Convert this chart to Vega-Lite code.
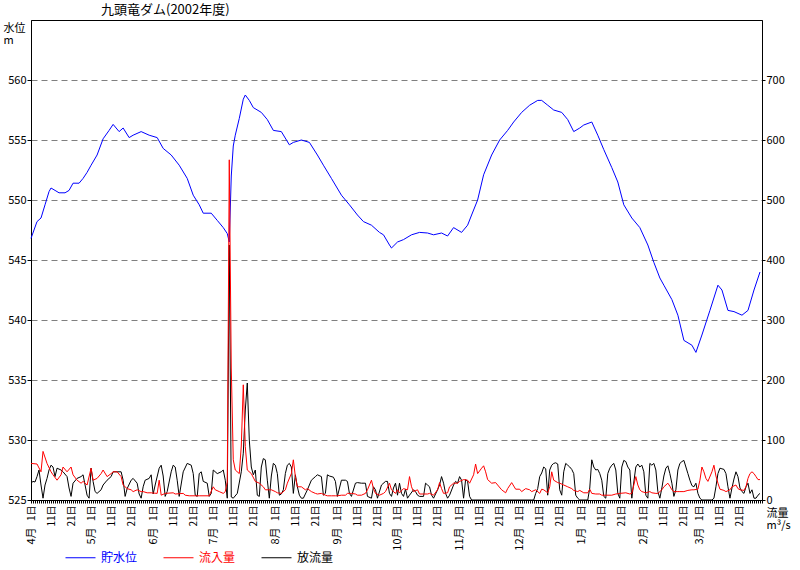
{
"$schema":"https://vega.github.io/schema/vega-lite/v6.json",
"autosize":"none",
"width":731,"height":480,
"padding":{"left":31,"top":20,"right":38,"bottom":70},
"background":"white",
"title":{"text":"九頭竜ダム(2002年度)","anchor":"start","frame":"group","dx":70,"offset":3,"fontSize":13,"fontWeight":"normal","color":"black","font":"Noto Sans CJK JP"},
"config":{"font":"Noto Sans CJK JP","view":{"stroke":"black","strokeWidth":1},
"axis":{"labelFont":"Noto Sans CJK JP","titleFont":"Noto Sans CJK JP","labelColor":"black","tickColor":"black","domainColor":"black","titleColor":"black","labelFontSize":11,"titleFontSize":12,"titleFontWeight":"normal"},
"legend":{"labelFont":"Noto Sans CJK JP"}},
"datasets":{
"lv":[
{"d":"2002/04/01","v":546.8},{"d":"2002/04/04","v":548.2},{"d":"2002/04/06","v":548.5},{"d":"2002/04/08","v":549.6},{"d":"2002/04/10","v":550.7},{"d":"2002/04/11","v":551.0},{"d":"2002/04/13","v":550.8},{"d":"2002/04/15","v":550.6},{"d":"2002/04/18","v":550.6},{"d":"2002/04/20","v":550.8},{"d":"2002/04/22","v":551.4},{"d":"2002/04/25","v":551.4},{"d":"2002/04/27","v":551.8},{"d":"2002/04/29","v":552.3},
{"d":"2002/05/01","v":552.9},{"d":"2002/05/04","v":553.75},{"d":"2002/05/07","v":555.1},{"d":"2002/05/10","v":555.8},{"d":"2002/05/12","v":556.3},{"d":"2002/05/15","v":555.7},{"d":"2002/05/17","v":556.0},{"d":"2002/05/20","v":555.2},{"d":"2002/05/22","v":555.4},{"d":"2002/05/26","v":555.7},{"d":"2002/05/30","v":555.4},
{"d":"2002/06/03","v":555.2},{"d":"2002/06/06","v":554.3},{"d":"2002/06/10","v":553.75},{"d":"2002/06/14","v":552.9},{"d":"2002/06/18","v":551.8},{"d":"2002/06/21","v":550.4},{"d":"2002/06/24","v":549.6},{"d":"2002/06/26","v":548.9},{"d":"2002/06/30","v":548.9},
{"d":"2002/07/03","v":548.3},{"d":"2002/07/06","v":547.7},{"d":"2002/07/08","v":547.2},{"d":"2002/07/09","v":546.5},{"d":"2002/07/10","v":552.0},{"d":"2002/07/11","v":554.5},{"d":"2002/07/12","v":555.4},{"d":"2002/07/14","v":556.8},{"d":"2002/07/16","v":558.4},{"d":"2002/07/17","v":558.75},{"d":"2002/07/19","v":558.3},{"d":"2002/07/21","v":557.7},{"d":"2002/07/25","v":557.3},{"d":"2002/07/28","v":556.7},{"d":"2002/07/31","v":555.8},
{"d":"2002/08/04","v":555.7},{"d":"2002/08/08","v":554.6},{"d":"2002/08/10","v":554.8},{"d":"2002/08/14","v":555.0},{"d":"2002/08/18","v":554.8},{"d":"2002/08/22","v":553.75},{"d":"2002/08/25","v":552.9},{"d":"2002/08/29","v":551.8},
{"d":"2002/09/03","v":550.4},{"d":"2002/09/07","v":549.6},{"d":"2002/09/11","v":548.75},{"d":"2002/09/14","v":548.2},{"d":"2002/09/18","v":547.9},{"d":"2002/09/22","v":547.3},{"d":"2002/09/24","v":547.1},{"d":"2002/09/27","v":546.25},{"d":"2002/09/28","v":546.0},
{"d":"2002/10/01","v":546.5},{"d":"2002/10/04","v":546.7},{"d":"2002/10/08","v":547.1},{"d":"2002/10/12","v":547.3},{"d":"2002/10/16","v":547.25},{"d":"2002/10/19","v":547.1},{"d":"2002/10/23","v":547.25},{"d":"2002/10/26","v":547.0},{"d":"2002/10/29","v":547.7},
{"d":"2002/11/02","v":547.3},{"d":"2002/11/05","v":547.9},{"d":"2002/11/07","v":548.75},{"d":"2002/11/10","v":550.0},{"d":"2002/11/13","v":552.1},{"d":"2002/11/17","v":553.75},{"d":"2002/11/21","v":555.0},{"d":"2002/11/25","v":555.8},{"d":"2002/11/28","v":556.5},
{"d":"2002/12/02","v":557.3},{"d":"2002/12/06","v":557.9},{"d":"2002/12/10","v":558.3},{"d":"2002/12/12","v":558.3},{"d":"2002/12/15","v":557.9},{"d":"2002/12/18","v":557.5},{"d":"2002/12/22","v":557.3},{"d":"2002/12/25","v":556.7},{"d":"2002/12/28","v":555.7},{"d":"2002/12/31","v":556.0},
{"d":"2003/01/02","v":556.25},{"d":"2003/01/06","v":556.5},{"d":"2003/01/09","v":555.4},{"d":"2003/01/12","v":554.2},{"d":"2003/01/16","v":552.7},{"d":"2003/01/19","v":551.5},{"d":"2003/01/22","v":549.6},{"d":"2003/01/26","v":548.5},{"d":"2003/01/30","v":547.7},
{"d":"2003/02/03","v":546.25},{"d":"2003/02/06","v":544.8},{"d":"2003/02/09","v":543.5},{"d":"2003/02/11","v":542.9},{"d":"2003/02/15","v":541.7},{"d":"2003/02/18","v":540.4},{"d":"2003/02/21","v":538.3},{"d":"2003/02/25","v":537.9},{"d":"2003/02/27","v":537.3},
{"d":"2003/03/02","v":538.75},{"d":"2003/03/06","v":540.8},{"d":"2003/03/10","v":542.9},{"d":"2003/03/12","v":542.5},{"d":"2003/03/15","v":540.8},{"d":"2003/03/18","v":540.7},{"d":"2003/03/22","v":540.4},{"d":"2003/03/25","v":540.8},{"d":"2003/03/28","v":542.5},{"d":"2003/03/31","v":544.0}
],
"inq":[
{"d":"2002/04/01","v":61},{"d":"2002/04/04","v":60},{"d":"2002/04/06","v":47},{"d":"2002/04/07","v":81},{"d":"2002/04/09","v":61},{"d":"2002/04/11","v":47},{"d":"2002/04/12","v":42},{"d":"2002/04/14","v":33},{"d":"2002/04/16","v":42},{"d":"2002/04/17","v":55},{"d":"2002/04/19","v":47},{"d":"2002/04/21","v":55},{"d":"2002/04/22","v":42},{"d":"2002/04/24","v":33},{"d":"2002/04/26","v":28},{"d":"2002/04/27","v":31},{"d":"2002/04/29","v":25},
{"d":"2002/05/01","v":53},{"d":"2002/05/02","v":33},{"d":"2002/05/04","v":36},{"d":"2002/05/06","v":44},{"d":"2002/05/07","v":50},{"d":"2002/05/09","v":39},{"d":"2002/05/11","v":44},{"d":"2002/05/12","v":47},{"d":"2002/05/14","v":47},{"d":"2002/05/16","v":39},{"d":"2002/05/17","v":25},{"d":"2002/05/19","v":19},{"d":"2002/05/21","v":17},{"d":"2002/05/22","v":14},{"d":"2002/05/24","v":17},{"d":"2002/05/26","v":14},{"d":"2002/05/27","v":14},{"d":"2002/05/29","v":12},{"d":"2002/05/31","v":12},
{"d":"2002/06/03","v":11},{"d":"2002/06/04","v":33},{"d":"2002/06/05","v":8},{"d":"2002/06/07","v":11},{"d":"2002/06/11","v":12},{"d":"2002/06/12","v":10},{"d":"2002/06/16","v":11},{"d":"2002/06/17","v":8},{"d":"2002/06/19","v":7},{"d":"2002/06/24","v":7},{"d":"2002/06/29","v":7},
{"d":"2002/07/01","v":22},{"d":"2002/07/02","v":17},{"d":"2002/07/04","v":14},{"d":"2002/07/06","v":11},{"d":"2002/07/07","v":14},{"d":"2002/07/08","v":30},{"d":"2002/07/09","v":567},{"d":"2002/07/10","v":220},{"d":"2002/07/11","v":67},{"d":"2002/07/12","v":50},{"d":"2002/07/14","v":44},{"d":"2002/07/15","v":90},{"d":"2002/07/16","v":192},{"d":"2002/07/17","v":89},{"d":"2002/07/18","v":50},{"d":"2002/07/20","v":44},{"d":"2002/07/22","v":31},{"d":"2002/07/24","v":28},{"d":"2002/07/26","v":22},{"d":"2002/07/27","v":17},{"d":"2002/07/29","v":17},{"d":"2002/07/30","v":17},
{"d":"2002/08/01","v":14},{"d":"2002/08/02","v":12},{"d":"2002/08/04","v":11},{"d":"2002/08/06","v":17},{"d":"2002/08/07","v":28},{"d":"2002/08/09","v":44},{"d":"2002/08/10","v":67},{"d":"2002/08/11","v":39},{"d":"2002/08/12","v":22},{"d":"2002/08/14","v":22},{"d":"2002/08/16","v":17},{"d":"2002/08/17","v":19},{"d":"2002/08/19","v":14},{"d":"2002/08/21","v":11},{"d":"2002/08/22","v":10},{"d":"2002/08/24","v":11},{"d":"2002/08/26","v":8},{"d":"2002/08/27","v":7},{"d":"2002/08/29","v":7},{"d":"2002/08/31","v":7},
{"d":"2002/09/01","v":7},{"d":"2002/09/03","v":8},{"d":"2002/09/05","v":8},{"d":"2002/09/06","v":11},{"d":"2002/09/08","v":11},{"d":"2002/09/10","v":10},{"d":"2002/09/11","v":8},{"d":"2002/09/13","v":8},{"d":"2002/09/15","v":11},{"d":"2002/09/16","v":17},{"d":"2002/09/18","v":33},{"d":"2002/09/19","v":19},{"d":"2002/09/20","v":11},{"d":"2002/09/22","v":8},{"d":"2002/09/24","v":11},{"d":"2002/09/25","v":14},{"d":"2002/09/27","v":28},{"d":"2002/09/28","v":17},{"d":"2002/09/30","v":11},
{"d":"2002/10/01","v":17},{"d":"2002/10/02","v":12},{"d":"2002/10/04","v":19},{"d":"2002/10/06","v":17},{"d":"2002/10/07","v":39},{"d":"2002/10/08","v":22},{"d":"2002/10/09","v":14},{"d":"2002/10/11","v":17},{"d":"2002/10/12","v":10},{"d":"2002/10/14","v":10},{"d":"2002/10/16","v":10},{"d":"2002/10/17","v":11},{"d":"2002/10/19","v":8},{"d":"2002/10/21","v":17},{"d":"2002/10/22","v":29},{"d":"2002/10/23","v":19},{"d":"2002/10/24","v":11},{"d":"2002/10/26","v":12},{"d":"2002/10/27","v":22},{"d":"2002/10/29","v":28},{"d":"2002/10/31","v":28},
{"d":"2002/11/01","v":31},{"d":"2002/11/03","v":34},{"d":"2002/11/05","v":33},{"d":"2002/11/06","v":28},{"d":"2002/11/08","v":42},{"d":"2002/11/09","v":60},{"d":"2002/11/10","v":44},{"d":"2002/11/12","v":53},{"d":"2002/11/13","v":57},{"d":"2002/11/14","v":47},{"d":"2002/11/15","v":34},{"d":"2002/11/17","v":28},{"d":"2002/11/19","v":29},{"d":"2002/11/20","v":25},{"d":"2002/11/22","v":17},{"d":"2002/11/24","v":12},{"d":"2002/11/25","v":19},{"d":"2002/11/27","v":29},{"d":"2002/11/29","v":18},
{"d":"2002/12/01","v":18},{"d":"2002/12/02","v":14},{"d":"2002/12/04","v":19},{"d":"2002/12/06","v":17},{"d":"2002/12/07","v":14},{"d":"2002/12/09","v":17},{"d":"2002/12/11","v":11},{"d":"2002/12/12","v":18},{"d":"2002/12/13","v":17},{"d":"2002/12/15","v":12},{"d":"2002/12/16","v":22},{"d":"2002/12/17","v":47},{"d":"2002/12/18","v":33},{"d":"2002/12/20","v":29},{"d":"2002/12/21","v":28},{"d":"2002/12/23","v":25},{"d":"2002/12/25","v":22},{"d":"2002/12/27","v":19},{"d":"2002/12/28","v":16},{"d":"2002/12/30","v":14},{"d":"2002/12/31","v":16},
{"d":"2003/01/02","v":12},{"d":"2003/01/04","v":12},{"d":"2003/01/05","v":18},{"d":"2003/01/06","v":11},{"d":"2003/01/08","v":10},{"d":"2003/01/10","v":10},{"d":"2003/01/11","v":8},{"d":"2003/01/13","v":8},{"d":"2003/01/16","v":8},{"d":"2003/01/18","v":10},{"d":"2003/01/20","v":11},{"d":"2003/01/23","v":12},{"d":"2003/01/25","v":10},{"d":"2003/01/26","v":11},{"d":"2003/01/28","v":39},{"d":"2003/01/29","v":25},{"d":"2003/01/30","v":17},{"d":"2003/01/31","v":14},
{"d":"2003/02/02","v":12},{"d":"2003/02/04","v":14},{"d":"2003/02/05","v":12},{"d":"2003/02/07","v":11},{"d":"2003/02/08","v":11},{"d":"2003/02/10","v":17},{"d":"2003/02/11","v":22},{"d":"2003/02/13","v":28},{"d":"2003/02/14","v":23},{"d":"2003/02/15","v":17},{"d":"2003/02/16","v":14},{"d":"2003/02/18","v":14},{"d":"2003/02/19","v":14},{"d":"2003/02/21","v":14},{"d":"2003/02/23","v":16},{"d":"2003/02/25","v":17},{"d":"2003/02/26","v":17},{"d":"2003/02/28","v":18},
{"d":"2003/03/01","v":33},{"d":"2003/03/02","v":55},{"d":"2003/03/03","v":47},{"d":"2003/03/04","v":36},{"d":"2003/03/05","v":31},{"d":"2003/03/07","v":47},{"d":"2003/03/08","v":58},{"d":"2003/03/09","v":40},{"d":"2003/03/10","v":28},{"d":"2003/03/11","v":18},{"d":"2003/03/13","v":16},{"d":"2003/03/14","v":14},{"d":"2003/03/16","v":17},{"d":"2003/03/17","v":22},{"d":"2003/03/19","v":25},{"d":"2003/03/20","v":19},{"d":"2003/03/21","v":17},{"d":"2003/03/23","v":16},{"d":"2003/03/24","v":22},{"d":"2003/03/25","v":36},{"d":"2003/03/26","v":44},{"d":"2003/03/27","v":47},{"d":"2003/03/28","v":44},{"d":"2003/03/29","v":39},{"d":"2003/03/30","v":34},{"d":"2003/03/31","v":34}
],
"outq":[
{"d":"2002/04/01","v":28},{"d":"2002/04/02","v":31},{"d":"2002/04/03","v":30},{"d":"2002/04/04","v":39},{"d":"2002/04/05","v":50},{"d":"2002/04/06","v":25},{"d":"2002/04/07","v":3},{"d":"2002/04/08","v":25},{"d":"2002/04/09","v":36},{"d":"2002/04/10","v":50},{"d":"2002/04/11","v":58},{"d":"2002/04/12","v":55},{"d":"2002/04/13","v":39},{"d":"2002/04/14","v":53},{"d":"2002/04/16","v":50},{"d":"2002/04/17","v":47},{"d":"2002/04/19","v":39},{"d":"2002/04/20","v":20},{"d":"2002/04/21","v":6},{"d":"2002/04/22","v":28},{"d":"2002/04/24","v":36},{"d":"2002/04/26","v":39},{"d":"2002/04/27","v":42},{"d":"2002/04/28","v":25},{"d":"2002/04/29","v":8},{"d":"2002/04/30","v":3},
{"d":"2002/05/01","v":53},{"d":"2002/05/02","v":31},{"d":"2002/05/03","v":14},{"d":"2002/05/04","v":11},{"d":"2002/05/06","v":17},{"d":"2002/05/07","v":25},{"d":"2002/05/09","v":33},{"d":"2002/05/11","v":39},{"d":"2002/05/12","v":47},{"d":"2002/05/14","v":47},{"d":"2002/05/16","v":47},{"d":"2002/05/17","v":33},{"d":"2002/05/18","v":6},{"d":"2002/05/19","v":19},{"d":"2002/05/21","v":33},{"d":"2002/05/22","v":36},{"d":"2002/05/24","v":28},{"d":"2002/05/25","v":10},{"d":"2002/05/26","v":3},{"d":"2002/05/27","v":22},{"d":"2002/05/28","v":33},{"d":"2002/05/30","v":36},{"d":"2002/05/31","v":42},
{"d":"2002/06/01","v":10},{"d":"2002/06/02","v":25},{"d":"2002/06/04","v":53},{"d":"2002/06/05","v":58},{"d":"2002/06/06","v":40},{"d":"2002/06/07","v":6},{"d":"2002/06/08","v":14},{"d":"2002/06/10","v":47},{"d":"2002/06/11","v":58},{"d":"2002/06/12","v":55},{"d":"2002/06/13","v":33},{"d":"2002/06/14","v":6},{"d":"2002/06/16","v":47},{"d":"2002/06/18","v":61},{"d":"2002/06/20","v":58},{"d":"2002/06/21","v":44},{"d":"2002/06/22","v":8},{"d":"2002/06/23","v":6},{"d":"2002/06/24","v":44},{"d":"2002/06/25","v":47},{"d":"2002/06/26","v":31},{"d":"2002/06/28","v":28},{"d":"2002/06/29","v":6},{"d":"2002/06/30","v":11},
{"d":"2002/07/01","v":50},{"d":"2002/07/03","v":44},{"d":"2002/07/05","v":47},{"d":"2002/07/06","v":50},{"d":"2002/07/07","v":33},{"d":"2002/07/08","v":3},{"d":"2002/07/09","v":425},{"d":"2002/07/10","v":5},{"d":"2002/07/11","v":3},{"d":"2002/07/13","v":11},{"d":"2002/07/15","v":47},{"d":"2002/07/16","v":78},{"d":"2002/07/17","v":150},{"d":"2002/07/18","v":195},{"d":"2002/07/19","v":100},{"d":"2002/07/20","v":55},{"d":"2002/07/21","v":42},{"d":"2002/07/22","v":50},{"d":"2002/07/23","v":8},{"d":"2002/07/24","v":6},{"d":"2002/07/25","v":55},{"d":"2002/07/26","v":69},{"d":"2002/07/27","v":67},{"d":"2002/07/28","v":33},{"d":"2002/07/29","v":3},{"d":"2002/07/30","v":40},{"d":"2002/07/31","v":61},
{"d":"2002/08/01","v":58},{"d":"2002/08/02","v":44},{"d":"2002/08/03","v":8},{"d":"2002/08/04","v":10},{"d":"2002/08/05","v":17},{"d":"2002/08/06","v":44},{"d":"2002/08/07","v":58},{"d":"2002/08/08","v":61},{"d":"2002/08/09","v":55},{"d":"2002/08/10","v":11},{"d":"2002/08/11","v":42},{"d":"2002/08/12","v":22},{"d":"2002/08/13","v":8},{"d":"2002/08/14","v":3},{"d":"2002/08/15","v":3},{"d":"2002/08/17","v":17},{"d":"2002/08/19","v":33},{"d":"2002/08/21","v":39},{"d":"2002/08/22","v":42},{"d":"2002/08/24","v":39},{"d":"2002/08/25","v":8},{"d":"2002/08/26","v":11},{"d":"2002/08/27","v":42},{"d":"2002/08/28","v":40},{"d":"2002/08/30","v":38},{"d":"2002/08/31","v":31},
{"d":"2002/09/01","v":6},{"d":"2002/09/03","v":33},{"d":"2002/09/05","v":33},{"d":"2002/09/06","v":31},{"d":"2002/09/07","v":11},{"d":"2002/09/08","v":6},{"d":"2002/09/10","v":28},{"d":"2002/09/11","v":29},{"d":"2002/09/13","v":28},{"d":"2002/09/15","v":28},{"d":"2002/09/16","v":6},{"d":"2002/09/18","v":3},{"d":"2002/09/19","v":22},{"d":"2002/09/20","v":17},{"d":"2002/09/21","v":3},{"d":"2002/09/23","v":25},{"d":"2002/09/25","v":31},{"d":"2002/09/26","v":31},{"d":"2002/09/27","v":11},{"d":"2002/09/28","v":6},{"d":"2002/09/29","v":20},{"d":"2002/09/30","v":28},
{"d":"2002/10/01","v":8},{"d":"2002/10/02","v":28},{"d":"2002/10/03","v":11},{"d":"2002/10/04","v":6},{"d":"2002/10/05","v":18},{"d":"2002/10/06","v":3},{"d":"2002/10/07","v":8},{"d":"2002/10/09","v":17},{"d":"2002/10/10","v":14},{"d":"2002/10/11","v":8},{"d":"2002/10/12","v":6},{"d":"2002/10/14","v":6},{"d":"2002/10/15","v":28},{"d":"2002/10/16","v":25},{"d":"2002/10/17","v":22},{"d":"2002/10/18","v":8},{"d":"2002/10/19","v":3},{"d":"2002/10/21","v":17},{"d":"2002/10/22","v":25},{"d":"2002/10/23","v":39},{"d":"2002/10/24","v":28},{"d":"2002/10/25","v":11},{"d":"2002/10/26","v":3},{"d":"2002/10/27","v":8},{"d":"2002/10/29","v":25},{"d":"2002/10/30","v":31},{"d":"2002/10/31","v":28},
{"d":"2002/11/01","v":39},{"d":"2002/11/02","v":33},{"d":"2002/11/03","v":3},{"d":"2002/11/04","v":34},{"d":"2002/11/05","v":31},{"d":"2002/11/06","v":6},{"d":"2002/11/07","v":0},{"d":"2002/12/07","v":0},{"d":"2002/12/08","v":0},{"d":"2002/12/09","v":11},{"d":"2002/12/10","v":19},{"d":"2002/12/11","v":39},{"d":"2002/12/12","v":45},{"d":"2002/12/13","v":55},{"d":"2002/12/14","v":52},{"d":"2002/12/15","v":8},{"d":"2002/12/16","v":50},{"d":"2002/12/17","v":58},{"d":"2002/12/18","v":61},{"d":"2002/12/19","v":62},{"d":"2002/12/20","v":60},{"d":"2002/12/21","v":17},{"d":"2002/12/22","v":8},{"d":"2002/12/23","v":47},{"d":"2002/12/24","v":61},{"d":"2002/12/25","v":58},{"d":"2002/12/26","v":55},{"d":"2002/12/27","v":51},{"d":"2002/12/28","v":44},{"d":"2002/12/29","v":8},{"d":"2002/12/30","v":3},{"d":"2002/12/31","v":0},
{"d":"2003/01/04","v":0},{"d":"2003/01/05","v":20},{"d":"2003/01/06","v":67},{"d":"2003/01/07","v":55},{"d":"2003/01/08","v":50},{"d":"2003/01/09","v":51},{"d":"2003/01/10","v":44},{"d":"2003/01/11","v":33},{"d":"2003/01/12","v":6},{"d":"2003/01/13","v":3},{"d":"2003/01/14","v":44},{"d":"2003/01/15","v":53},{"d":"2003/01/16","v":58},{"d":"2003/01/17","v":61},{"d":"2003/01/18","v":50},{"d":"2003/01/19","v":11},{"d":"2003/01/20","v":3},{"d":"2003/01/21","v":55},{"d":"2003/01/22","v":66},{"d":"2003/01/23","v":64},{"d":"2003/01/24","v":55},{"d":"2003/01/25","v":50},{"d":"2003/01/26","v":3},{"d":"2003/01/27","v":30},{"d":"2003/01/28","v":55},{"d":"2003/01/29","v":60},{"d":"2003/01/30","v":55},{"d":"2003/01/31","v":58},
{"d":"2003/02/01","v":47},{"d":"2003/02/02","v":8},{"d":"2003/02/03","v":3},{"d":"2003/02/04","v":61},{"d":"2003/02/05","v":58},{"d":"2003/02/06","v":61},{"d":"2003/02/07","v":50},{"d":"2003/02/08","v":14},{"d":"2003/02/09","v":3},{"d":"2003/02/10","v":20},{"d":"2003/02/11","v":40},{"d":"2003/02/12","v":53},{"d":"2003/02/13","v":57},{"d":"2003/02/14","v":44},{"d":"2003/02/15","v":28},{"d":"2003/02/16","v":6},{"d":"2003/02/17","v":17},{"d":"2003/02/18","v":50},{"d":"2003/02/19","v":61},{"d":"2003/02/20","v":64},{"d":"2003/02/21","v":66},{"d":"2003/02/22","v":55},{"d":"2003/02/23","v":44},{"d":"2003/02/24","v":33},{"d":"2003/02/25","v":24},{"d":"2003/02/26","v":22},{"d":"2003/02/27","v":28},{"d":"2003/02/28","v":11},
{"d":"2003/03/01","v":3},{"d":"2003/03/02","v":0},{"d":"2003/03/07","v":0},{"d":"2003/03/08","v":3},{"d":"2003/03/09","v":22},{"d":"2003/03/10","v":44},{"d":"2003/03/11","v":53},{"d":"2003/03/12","v":52},{"d":"2003/03/13","v":51},{"d":"2003/03/14","v":44},{"d":"2003/03/15","v":22},{"d":"2003/03/16","v":3},{"d":"2003/03/17","v":20},{"d":"2003/03/18","v":35},{"d":"2003/03/19","v":47},{"d":"2003/03/20","v":39},{"d":"2003/03/21","v":20},{"d":"2003/03/22","v":14},{"d":"2003/03/23","v":11},{"d":"2003/03/24","v":22},{"d":"2003/03/25","v":28},{"d":"2003/03/26","v":11},{"d":"2003/03/27","v":17},{"d":"2003/03/28","v":3},{"d":"2003/03/29","v":3},{"d":"2003/03/30","v":8},{"d":"2003/03/31","v":11}
]
},
"layer":[
{
"data":{"name":"lv"},
"mark":{"type":"line","strokeWidth":1},
"encoding":{
"x":{"field":"d","type":"temporal",
"scale":{"domain":[{"year":2002,"month":4,"date":1},{"year":2003,"month":4,"date":1}]},
"axis":{"orient":"bottom","title":null,"grid":false,"tickCount":{"interval":"day","step":1},"tickSize":3,
"labelExpr":"(date(datum.value)==1||date(datum.value)==11||date(datum.value)==21)&&!(year(datum.value)==2003&&month(datum.value)==3)?date(datum.value)+'日':''",
"labelAngle":270,"labelAlign":"right","labelBaseline":"middle","labelOverlap":false,"labelBound":false,"labelFlush":false,"labelFontSize":10,"labelPadding":2}},
"y":{"field":"v","type":"quantitative","scale":{"domain":[525,565],"nice":false,"zero":false},
"axis":{"values":[525,530,535,540,545,550,555,560],"grid":true,"gridColor":"#808080","gridDash":[6,4],"gridWidth":1,"tickSize":4,"labelPadding":1,"labelFontSize":11,
"title":["水位","m"],"titleAngle":0,"titleAlign":"left","titleBaseline":"top","titleX":-28,"titleY":2,"titleLineHeight":12,"titleFontSize":11}},
"color":{"datum":"貯水位","type":"nominal",
"scale":{"domain":["貯水位","流入量","放流量"],"range":["#0000ff","#ff0000","#000000"]},
"legend":{"orient":"none","direction":"horizontal","legendX":34,"legendY":522,"title":null,"symbolType":"stroke","symbolSize":900,"symbolStrokeWidth":1,"labelFontSize":12,"columnPadding":23,"labelOffset":5,
"encode":{"labels":{"update":{"fill":{"scale":"color","field":"value"}}}}}}
}
},
{
"layer":[
{
"data":{"name":"outq"},
"mark":{"type":"line","strokeWidth":1},
"encoding":{
"x":{"field":"d","type":"temporal",
"axis":{"orient":"bottom","title":null,"grid":false,"domain":false,"ticks":false,"tickSize":0,"values":[{"year":2002,"month":4,"date":1},{"year":2002,"month":5,"date":1},{"year":2002,"month":6,"date":1},{"year":2002,"month":7,"date":1},{"year":2002,"month":8,"date":1},{"year":2002,"month":9,"date":1},{"year":2002,"month":10,"date":1},{"year":2002,"month":11,"date":1},{"year":2002,"month":12,"date":1},{"year":2003,"month":1,"date":1},{"year":2003,"month":2,"date":1},{"year":2003,"month":3,"date":1}],
"format":"%-m月","labelAngle":270,"labelAlign":"right","labelBaseline":"middle","labelOverlap":false,"labelBound":false,"labelFlush":false,"labelFontSize":11,"labelPadding":27}},
"y":{"field":"v","type":"quantitative","scale":{"domain":[0,800],"nice":false},
"axis":{"orient":"right","values":[0,100,200,300,400,500,600,700],"grid":false,"tickSize":3,"labelPadding":1,"labelFontSize":11,
"title":["流量","m³/s"],"titleAngle":0,"titleAlign":"left","titleBaseline":"top","titleX":4,"titleY":487,"titleLineHeight":12,"titleFontSize":11}},
"color":{"datum":"放流量","type":"nominal"}
}
},
{
"data":{"name":"inq"},
"mark":{"type":"line","strokeWidth":1},
"encoding":{
"x":{"field":"d","type":"temporal",
"axis":{"orient":"bottom","title":null,"grid":false,"domain":false,"ticks":false,"tickSize":0,"values":[{"year":2002,"month":4,"date":1},{"year":2002,"month":5,"date":1},{"year":2002,"month":6,"date":1},{"year":2002,"month":7,"date":1},{"year":2002,"month":8,"date":1},{"year":2002,"month":9,"date":1},{"year":2002,"month":10,"date":1},{"year":2002,"month":11,"date":1},{"year":2002,"month":12,"date":1},{"year":2003,"month":1,"date":1},{"year":2003,"month":2,"date":1},{"year":2003,"month":3,"date":1}],
"format":"%-m月","labelAngle":270,"labelAlign":"right","labelBaseline":"middle","labelOverlap":false,"labelBound":false,"labelFlush":false,"labelFontSize":11,"labelPadding":27}},
"y":{"field":"v","type":"quantitative","scale":{"domain":[0,800],"nice":false},
"axis":{"orient":"right","values":[0,100,200,300,400,500,600,700],"grid":false,"tickSize":3,"labelPadding":1,"labelFontSize":11,
"title":["流量","m³/s"],"titleAngle":0,"titleAlign":"left","titleBaseline":"top","titleX":4,"titleY":487,"titleLineHeight":12,"titleFontSize":11}},
"color":{"datum":"流入量","type":"nominal"}
}
}
]
}
],
"resolve":{"scale":{"y":"independent"},"axis":{"x":"independent"}}
}
